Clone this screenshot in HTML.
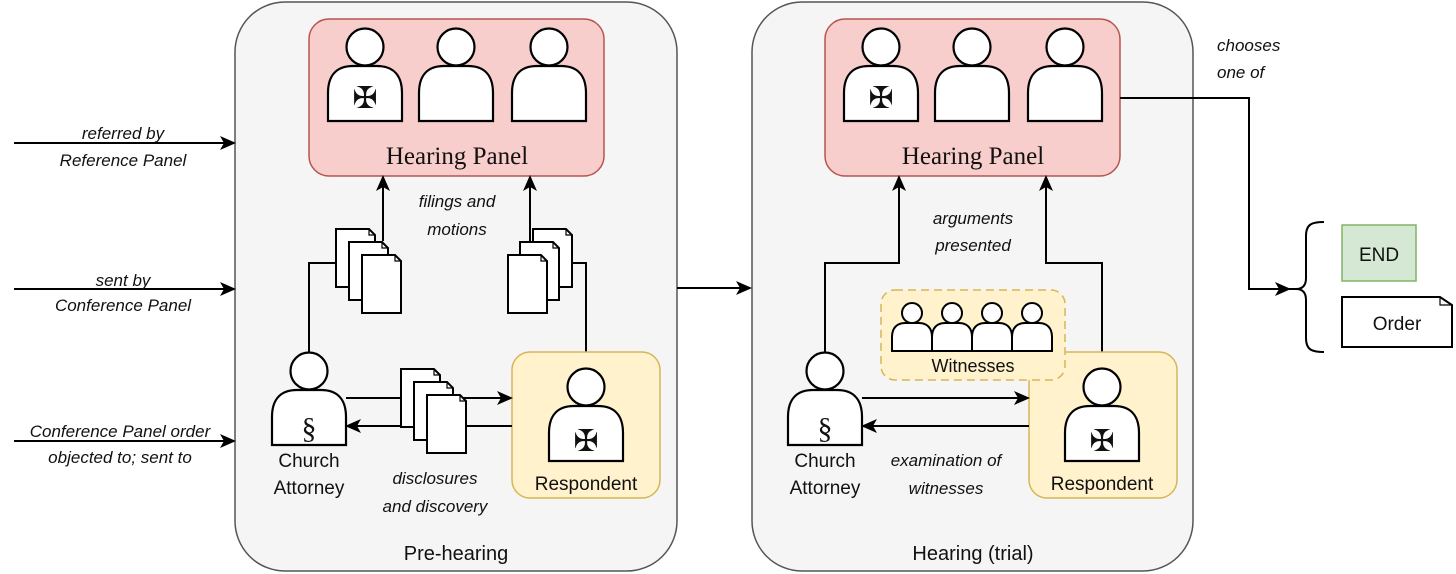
<!DOCTYPE html>
<html><head><meta charset="utf-8"><style>
html,body{margin:0;padding:0;background:#fff;}
svg{display:block;}
text{font-family:"Liberation Sans",sans-serif;fill:#111;}
.it{font-style:italic;font-size:17px;}
.lb{font-size:19px;}
.sf{font-family:"Liberation Serif",serif;font-size:25px;}
.cr{font-family:"DejaVu Sans",sans-serif;font-size:30px;}
</style></head><body>
<svg width="1456" height="574" viewBox="0 0 1456 574" xmlns="http://www.w3.org/2000/svg">
<defs>
<marker id="ah" markerWidth="16" markerHeight="14" refX="14" refY="7" orient="auto" markerUnits="userSpaceOnUse">
<path d="M0,0 L16,7 L0,14 L4,7 Z" fill="#000"/></marker>
<g id="person" stroke="#000" stroke-width="2.2" fill="#fff">
<path d="M-37,74 V46 C-37,28 -28,19 -12,19 H12 C28,19 37,28 37,46 V74 Z"/>
<circle cx="0" cy="0" r="18.5"/>
</g>
<g id="sp" stroke="#000" stroke-width="2" fill="#fff">
<path d="M-20,38 V24 C-20,15 -15,10 -7,10 H7 C15,10 20,15 20,24 V38 Z"/>
<circle cx="0" cy="0" r="10"/>
</g>
<g id="doc" stroke="#000" stroke-width="2" fill="#fff">
<path d="M0,0 H33 L39,6 V58 H0 Z"/><path d="M33,0 V6 H39" fill="none" stroke-width="1.2"/>
</g>
</defs>

<rect x="235" y="2" width="442" height="569" rx="50" fill="#f5f5f5" stroke="#555" stroke-width="1.5"/>
<rect x="752" y="2" width="441" height="569" rx="50" fill="#f5f5f5" stroke="#555" stroke-width="1.5"/>

<g stroke="#000" stroke-width="2" marker-end="url(#ah)">
<line x1="14" y1="143" x2="234" y2="143"/>
<line x1="14" y1="289" x2="234" y2="289"/>
<line x1="14" y1="441" x2="234" y2="441"/>
<line x1="677" y1="288" x2="750" y2="288"/>
</g>
<g class="it" text-anchor="middle">
<text x="123" y="139">referred by</text>
<text x="123" y="166">Reference Panel</text>
<text x="123" y="286">sent by</text>
<text x="123" y="311">Conference Panel</text>
<text x="120" y="437">Conference Panel order</text>
<text x="120" y="463">objected to; sent to</text>
</g>

<!-- Pre-hearing -->
<rect x="309" y="19" width="295" height="157" rx="20" fill="#f8cecc" stroke="#b85450" stroke-width="1.5"/>
<use href="#person" x="365" y="47"/><use href="#person" x="456" y="47"/><use href="#person" x="549" y="47"/>
<text class="cr" x="365" y="108" text-anchor="middle">✠</text>
<text class="sf" x="457" y="164" text-anchor="middle">Hearing Panel</text>

<g stroke="#000" stroke-width="2" fill="none">
<polyline points="309,352 309,263 336,263"/>
<polyline points="586,352 586,263 572,263"/>
<line x1="383" y1="241" x2="383" y2="177" marker-end="url(#ah)"/>
<line x1="530" y1="241" x2="530" y2="177" marker-end="url(#ah)"/>
</g>
<use href="#doc" x="336" y="229"/><use href="#doc" x="349" y="242"/><use href="#doc" x="362" y="255"/>
<use href="#doc" x="533" y="229"/><use href="#doc" x="520" y="242"/><use href="#doc" x="508" y="255"/>
<g class="it" text-anchor="middle">
<text x="457" y="207">filings and</text>
<text x="457" y="235">motions</text>
</g>

<rect x="512" y="352" width="148" height="146" rx="18" fill="#fff2cc" stroke="#d6b656" stroke-width="1.5"/>
<g stroke="#000" stroke-width="2" fill="none">
<line x1="346" y1="398" x2="511" y2="398" marker-end="url(#ah)"/>
<line x1="512" y1="426" x2="347" y2="426" marker-end="url(#ah)"/>
</g>
<use href="#doc" x="401" y="369"/><use href="#doc" x="414" y="382"/><use href="#doc" x="427" y="395"/>
<use href="#person" x="309" y="371"/>
<text x="309" y="438" text-anchor="middle" style="font-size:30px;font-family:'Liberation Serif',serif">§</text>
<use href="#person" x="586" y="387"/>
<text class="cr" x="586" y="451" text-anchor="middle">✠</text>
<text class="lb" x="309" y="467" text-anchor="middle">Church</text>
<text class="lb" x="309" y="494" text-anchor="middle">Attorney</text>
<text class="lb" x="586" y="490" text-anchor="middle">Respondent</text>
<g class="it" text-anchor="middle">
<text x="435" y="484">disclosures</text>
<text x="435" y="512">and discovery</text>
</g>
<text x="456" y="560" text-anchor="middle" style="font-size:20px">Pre-hearing</text>

<!-- Hearing -->
<rect x="825" y="19" width="295" height="157" rx="20" fill="#f8cecc" stroke="#b85450" stroke-width="1.5"/>
<use href="#person" x="881" y="47"/><use href="#person" x="972" y="47"/><use href="#person" x="1065" y="47"/>
<text class="cr" x="881" y="108" text-anchor="middle">✠</text>
<text class="sf" x="973" y="164" text-anchor="middle">Hearing Panel</text>
<g stroke="#000" stroke-width="2" fill="none">
<polyline points="825,352 825,263 899,263 899,177" marker-end="url(#ah)"/>
<polyline points="1102,352 1102,263 1046,263 1046,177" marker-end="url(#ah)"/>
</g>
<g class="it" text-anchor="middle">
<text x="973" y="224">arguments</text>
<text x="973" y="251">presented</text>
</g>
<rect x="1029" y="352" width="148" height="146" rx="18" fill="#fff2cc" stroke="#d6b656" stroke-width="1.5"/>
<rect x="881" y="290" width="184" height="90" rx="14" fill="#fff2cc" stroke="#d6b656" stroke-width="1.5" stroke-dasharray="8,5"/>
<use href="#sp" x="912" y="313"/><use href="#sp" x="952" y="313"/><use href="#sp" x="992" y="313"/><use href="#sp" x="1032" y="313"/>
<text x="973" y="372" text-anchor="middle" style="font-size:18px">Witnesses</text>
<g stroke="#000" stroke-width="2" fill="none">
<line x1="862" y1="398" x2="1028" y2="398" marker-end="url(#ah)"/>
<line x1="1029" y1="426" x2="863" y2="426" marker-end="url(#ah)"/>
</g>
<use href="#person" x="825" y="371"/>
<text x="825" y="438" text-anchor="middle" style="font-size:30px;font-family:'Liberation Serif',serif">§</text>
<use href="#person" x="1102" y="387"/>
<text class="cr" x="1102" y="451" text-anchor="middle">✠</text>
<text class="lb" x="825" y="467" text-anchor="middle">Church</text>
<text class="lb" x="825" y="494" text-anchor="middle">Attorney</text>
<text class="lb" x="1102" y="490" text-anchor="middle">Respondent</text>
<g class="it" text-anchor="middle">
<text x="946" y="466">examination of</text>
<text x="946" y="494">witnesses</text>
</g>
<text x="973" y="560" text-anchor="middle" style="font-size:20px">Hearing (trial)</text>

<!-- Outcome -->
<polyline points="1120,98 1249,98 1249,289 1289,289" fill="none" stroke="#000" stroke-width="2" marker-end="url(#ah)"/>
<line x1="1288" y1="289" x2="1298" y2="289" stroke="#000" stroke-width="2"/>
<path d="M1324,222 C1312,222 1306,224 1306,236 V278 C1306,286 1302,289 1296,289 C1302,289 1306,292 1306,300 V338 C1306,350 1312,352 1324,352" fill="none" stroke="#000" stroke-width="2"/>
<text class="it" x="1217" y="51">chooses</text>
<text class="it" x="1217" y="78">one of</text>
<rect x="1342" y="225" width="74" height="56" fill="#d5e8d4" stroke="#82b366" stroke-width="1.5"/>
<text x="1379" y="261" text-anchor="middle" style="font-size:19px">END</text>
<path d="M1342,297 H1440 L1452,305 V347 H1342 Z" fill="#fff" stroke="#000" stroke-width="2"/>
<path d="M1440,297 V305 H1452" fill="none" stroke="#000" stroke-width="1.2"/>
<text x="1397" y="330" text-anchor="middle" style="font-size:19px">Order</text>
</svg>
</body></html>
